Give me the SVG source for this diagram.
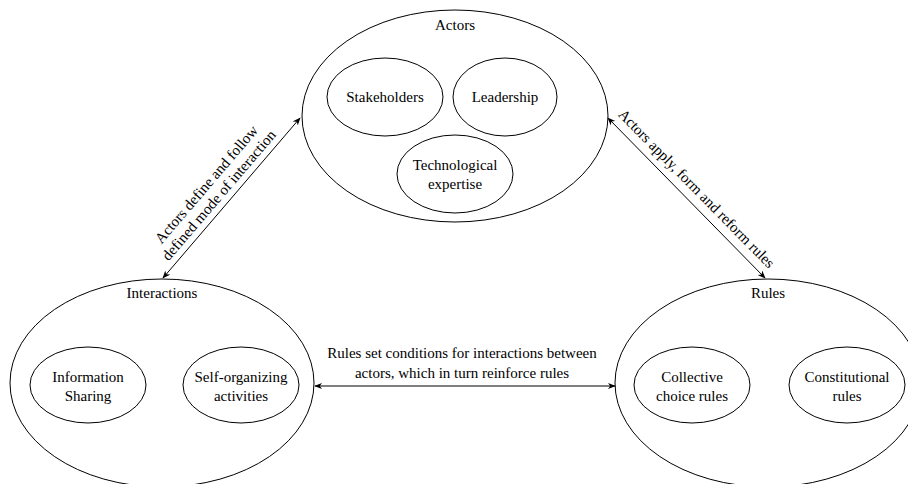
<svg xmlns="http://www.w3.org/2000/svg" width="908" height="484" viewBox="0 0 908 484">
<style>
  .e { fill: #ffffff; stroke: #000000; stroke-width: 1; }
  .t { font-family: "Liberation Serif", "Times New Roman", serif; font-size: 15px; fill: #000000; text-anchor: middle; }
  .c { stroke: #000000; stroke-width: 1; fill: none; marker-start: url(#ah); marker-end: url(#ah); }
</style>
<defs>
  <marker id="ah" viewBox="0 0 10 10" refX="9" refY="5" markerWidth="8" markerHeight="8" markerUnits="userSpaceOnUse" orient="auto-start-reverse">
    <path d="M0,1 L10,5 L0,9 L3,5 Z" fill="#000000"/>
  </marker>
</defs>
<rect width="908" height="484" fill="#ffffff"/>
<g id="actors">
  <ellipse class="e" cx="455" cy="116" rx="153" ry="106"/>
  <text class="t" x="455" y="30">Actors</text>
</g>
<g id="stakeholders">
  <ellipse class="e" cx="385" cy="97" rx="58" ry="39"/>
  <text class="t" x="385" y="102">Stakeholders</text>
</g>
<g id="leadership">
  <ellipse class="e" cx="505" cy="97" rx="52" ry="39"/>
  <text class="t" x="505" y="102">Leadership</text>
</g>
<g id="tech">
  <ellipse class="e" cx="455" cy="174" rx="58" ry="39"/>
  <text class="t" x="455" y="170">Technological</text>
  <text class="t" x="455" y="189">expertise</text>
</g>
<g id="interactions">
  <ellipse class="e" cx="162" cy="383" rx="152" ry="104"/>
  <text class="t" x="162" y="298">Interactions</text>
</g>
<g id="info">
  <ellipse class="e" cx="88" cy="385" rx="58" ry="38"/>
  <text class="t" x="88" y="382">Information</text>
  <text class="t" x="88" y="401">Sharing</text>
</g>
<g id="selforg">
  <ellipse class="e" cx="241" cy="385" rx="58" ry="38"/>
  <text class="t" x="241" y="382">Self-organizing</text>
  <text class="t" x="241" y="401">activities</text>
</g>
<g id="rules">
  <ellipse class="e" cx="768" cy="383" rx="153" ry="104"/>
  <text class="t" x="768" y="298">Rules</text>
</g>
<g id="collective">
  <ellipse class="e" cx="692" cy="385" rx="58" ry="38"/>
  <text class="t" x="692" y="382">Collective</text>
  <text class="t" x="692" y="401">choice rules</text>
</g>
<g id="constitutional">
  <ellipse class="e" cx="847" cy="385" rx="58" ry="38"/>
  <text class="t" x="847" y="382">Constitutional</text>
  <text class="t" x="847" y="401">rules</text>
</g>
<g id="connectors">
  <line class="c" x1="163" y1="278" x2="300" y2="118"/>
  <line class="c" x1="765" y1="278" x2="608" y2="118"/>
  <line class="c" x1="315" y1="386" x2="615" y2="386"/>
  <g transform="translate(227.6,202.6) rotate(-49.4)">
    <text class="t" x="0" y="-23">Actors define and follow</text>
    <text class="t" x="0" y="-6.5">defined mode of interaction</text>
  </g>
  <g transform="translate(688,197) rotate(45.5)">
    <text class="t" x="0" y="-7">Actors apply, form and reform rules</text>
  </g>
  <text class="t" x="462" y="358">Rules set conditions for interactions between</text>
  <text class="t" x="462" y="378">actors, which in turn reinforce rules</text>
</g>
</svg>
